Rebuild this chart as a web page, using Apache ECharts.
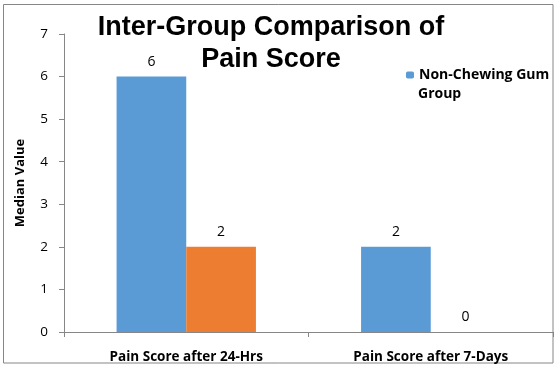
<!DOCTYPE html>
<html><head><meta charset="utf-8">
<script src="https://cdn.jsdelivr.net/npm/echarts@6/dist/echarts.min.js"></script>
<style>html,body{margin:0;padding:0;background:#fff}#c{width:558px;height:368px}</style>
</head><body><div id="c"></div>
<script>
const categories = ["Pain Score after 24-Hrs", "Pain Score after 7-Days"];
const nonChewing = [6, 2];
const chewing = [2, 0];
const yTicks = [0, 1, 2, 3, 4, 5, 6, 7];

const chart = echarts.init(document.getElementById('c'));
const lbl = {show: true, position: 'top', color: '#000', fontSize: 14, fontFamily: 'Open Sans', distance: 8};
const legendFont = {fontFamily: 'Open Sans', fontWeight: 'bold', fontSize: 14, color: '#000'};
chart.setOption({
  animation: false,
  graphic: [
    {type: 'rect', shape: {x: 3.5, y: 4.5, width: 549.5, height: 358.5}, style: {fill: 'none', stroke: '#868686', lineWidth: 1}, z: -1},
    {type: 'text', left: 418, top: 87, style: {text: 'Group', font: 'bold 14px "Open Sans"', fill: '#000'}}
  ],
  title: {
    text: 'Inter-Group Comparison of\nPain Score',
    left: 271, top: 12, textAlign: 'center', padding: 0,
    textStyle: {fontFamily: 'Liberation Sans', fontWeight: 'bold', fontSize: 27, lineHeight: 32, color: '#000'}
  },
  legend: {
    data: ['Non-Chewing Gum Group'],
    left: 406, top: 65, orient: 'vertical', padding: 0,
    itemWidth: 8, itemHeight: 7,
    formatter: () => 'Non-Chewing Gum',
    textStyle: Object.assign({lineHeight: 20}, legendFont)
  },
  grid: {left: 64, right: 5, top: 34, bottom: 36, containLabel: false},
  xAxis: {
    type: 'category', data: categories,
    axisLine: {lineStyle: {color: '#868686'}},
    axisTick: {show: true, length: 5, lineStyle: {color: '#868686'}},
    axisLabel: {color: '#000', fontFamily: 'Open Sans', fontWeight: 'bold', fontSize: 13.5, margin: 18}
  },
  yAxis: {
    type: 'value', min: yTicks[0], max: yTicks[yTicks.length - 1], interval: 1,
    name: 'Median Value', nameLocation: 'middle', nameGap: 37, nameRotate: 90,
    nameTextStyle: {fontFamily: 'Open Sans', fontWeight: 'bold', fontSize: 13, color: '#000'},
    axisLine: {show: true, lineStyle: {color: '#868686'}},
    axisTick: {show: true, length: 5, lineStyle: {color: '#868686'}},
    splitLine: {show: false},
    axisLabel: {color: '#000', fontFamily: 'Open Sans', fontSize: 13.5, margin: 16}
  },
  series: [
    {name: 'Non-Chewing Gum Group', type: 'bar', data: nonChewing, itemStyle: {color: '#5B9BD5'}, barGap: '0%', barCategoryGap: '43%', label: lbl},
    {name: 'Chewing Gum Group', type: 'bar', data: chewing, itemStyle: {color: '#ED7D31'}, label: lbl}
  ]
});
</script></body></html>
